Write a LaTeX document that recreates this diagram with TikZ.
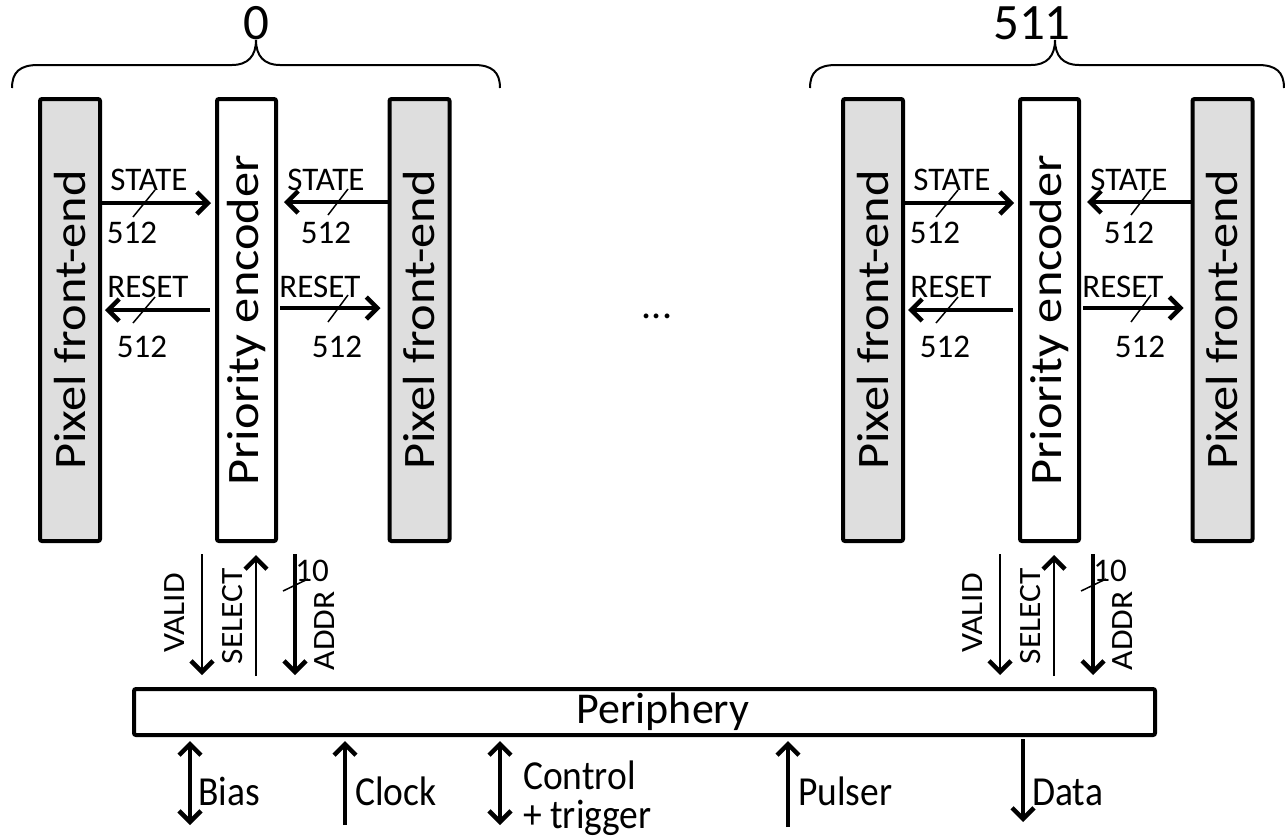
\documentclass[tikz,border=0pt]{standalone}
\usepackage{fontspec}
\setmainfont{Carlito}
\usetikzlibrary{arrows.meta}
\definecolor{pixelgray}{gray}{0.87}
\newcommand\fsz[2]{\fontsize{#1}{#2}\selectfont}
\newcommand\uptext[1]{\rotatebox{90}{\scalebox{1.12}[1]{#1}}}
\newcommand\tall[1]{\scalebox{1}[1.1]{#1}}

\begin{document}
\begin{tikzpicture}[x=1pt, y=-1pt,
    chev/.tip={Straight Barb[length=11pt, width=22pt, line width=4.5pt]},
    fe/.style = {draw, line width=4pt, fill=pixelgray, rounded corners=2pt, minimum width=60pt,
                 minimum height=442pt, inner sep=0pt, font=\fsz{45}{54}},
    pe/.style = {fe, fill=white, minimum width=59pt},
    bus/.style = {line width=4pt, -chev},
    wire/.style = {line width=1.5pt, -chev},
    slash/.style = {line width=1.5pt},
    brace/.style = {line width=2pt},
    lbl/.style = {inner sep=0pt, font=\fsz{33}{40}},
    vlbl/.style = {inner sep=0pt, font=\fsz{31}{36}, rotate=90},
    iolbl/.style = {inner sep=0pt, font=\fsz{37.5}{33.5}},
    toplbl/.style = {inner sep=0pt, font=\fsz{51}{60}}]
  \useasboundingbox (0,0) rectangle (1285,838);

  \node[draw, line width=4pt, rounded corners=2pt, minimum width=1021pt, minimum height=46pt,
        inner sep=0pt] (periph) at (644.5,712) {};
  \node[inner sep=0pt, font=\fsz{44}{52}] (periphtxt) at (663,712) {Periphery};

  % the two columns
  \foreach \g/\dx/\dxb in {a/0/0, b/803/798} {
    \node[fe] (fl\g) at (70+\dx,320) {\uptext{Pixel front-end}};
    \node[pe] (pe\g) at (246.5+\dx,320) {\uptext{Priority encoder}};
    \node[fe] (fr\g) at (419.5+\dx,320) {\uptext{Pixel front-end}};

    \draw[bus, shorten >=4pt] (fl\g.east |- 0,203) -- (pe\g.west |- 0,203);
    \draw[bus, shorten >=6pt] (fr\g.west |- 0,202) -- (pe\g.east |- 0,202);
    \draw[bus, shorten <=5pt, shorten >=3pt] (pe\g.west |- 0,310) -- (fl\g.east |- 0,310);
    \draw[bus, shorten <=2pt, shorten >=7pt] (pe\g.east |- 0,308) -- (fr\g.west |- 0,308);
    \draw[slash] (133+\dx,217) -- (155+\dx,190);
    \draw[slash] (328+\dx,215) -- (348+\dx,189);
    \draw[slash] (133+\dx,323) -- (155+\dx,297);
    \draw[slash] (328+\dx,322) -- (348+\dx,295);
    \node[lbl, anchor=base] (stl\g) at (149+\dx,190) {STATE};
    \node[lbl, anchor=base] (snl\g) at (132+\dx,243) {512};
    \node[lbl, anchor=base] (str\g) at (326+\dx,190) {STATE};
    \node[lbl, anchor=base] (snr\g) at (326+\dx,243) {512};
    \node[lbl, anchor=base] (rsl\g) at (148+\dx,297) {RESET};
    \node[lbl, anchor=base] (rnl\g) at (142+\dx,357) {512};
    \node[lbl, anchor=base] (rsr\g) at (320+\dx,297) {RESET};
    \node[lbl, anchor=base] (rnr\g) at (337+\dx,357) {512};

    \draw[wire, shorten <=11pt, shorten >=12pt] (pe\g.south -| 202+\dxb,0) -- (periph.north -| 202+\dxb,0);
    \draw[wire, shorten <=11pt, shorten >=12pt] (periph.north -| 256+\dxb,0) -- (pe\g.south -| 256+\dxb,0);
    \draw[bus, shorten <=11pt, shorten >=12pt] (pe\g.south -| 295+\dxb,0) -- (periph.north -| 295+\dxb,0);
    \draw[slash] (283+\dxb,591) -- (308+\dxb,579);
    \node[vlbl] (vl\g) at (175+\dxb,613) {\scalebox{1.08}[1]{VALID}};
    \node[vlbl] (sl\g) at (233+\dxb,616) {\scalebox{1.08}[1]{SELECT}};
    \node[vlbl] (al\g) at (325+\dxb,631) {\scalebox{1.08}[1]{ADDR}};
    \node[lbl] (an\g) at (312+\dxb,571) {10};
  }

  \draw[brace] (12,88) .. controls (12,72) and (20,65) .. (38,65) -- (232,65)
    .. controls (248,65) and (256,56) .. (256,40) .. controls (256,56) and (264,65) .. (280,65)
    -- (474,65) .. controls (492,65) and (500,72) .. (500,88);
  \draw[brace] (810,88) .. controls (810,72) and (818,65) .. (836,65) -- (1031,65)
    .. controls (1047,65) and (1055,56) .. (1055,40) .. controls (1055,56) and (1063,65) .. (1079,65)
    -- (1258,65) .. controls (1276,65) and (1284,72) .. (1284,88);
  \node[toplbl, anchor=base] (idxa) at (256,39) {0};
  \node[toplbl, anchor=base] (idxb) at (1032,39) {511};

  \node[inner sep=0pt, font=\fsz{40}{48}] (dots) at (657,316) {...};

  % inputs and outputs of the periphery
  \coordinate (biasend) at (190,825);
  \coordinate (clkend) at (345,825);
  \coordinate (ctlend) at (500,825);
  \coordinate (plsend) at (788,827);
  \coordinate (datend) at (1023,822);
  \draw[bus, chev-chev, shorten <=4pt] (periph.south -| biasend) -- (biasend);
  \draw[bus, shorten >=4pt] (clkend) -- (periph.south -| clkend);
  \draw[bus, chev-chev, shorten <=4pt] (periph.south -| ctlend) -- (ctlend);
  \draw[bus, shorten >=4pt] (plsend) -- (periph.south -| plsend);
  \draw[bus, shorten <=2pt] (periph.south -| datend) -- (datend);
  \node[iolbl, anchor=base west] (biaslbl) at (198,805) {\tall{Bias}};
  \node[iolbl, anchor=base west] (clklbl) at (355,805) {\tall{Clock}};
  \node[iolbl, anchor=base west] (ctllbl) at (523,789)
    {\tall{\begin{tabular}[t]{@{}l@{}}Control\\+ trigger\end{tabular}}};
  \node[iolbl, anchor=base west] (plslbl) at (798,805) {\tall{Pulser}};
  \node[iolbl, anchor=base west] (datlbl) at (1032,805) {\tall{Data}};
\end{tikzpicture}
\end{document}
